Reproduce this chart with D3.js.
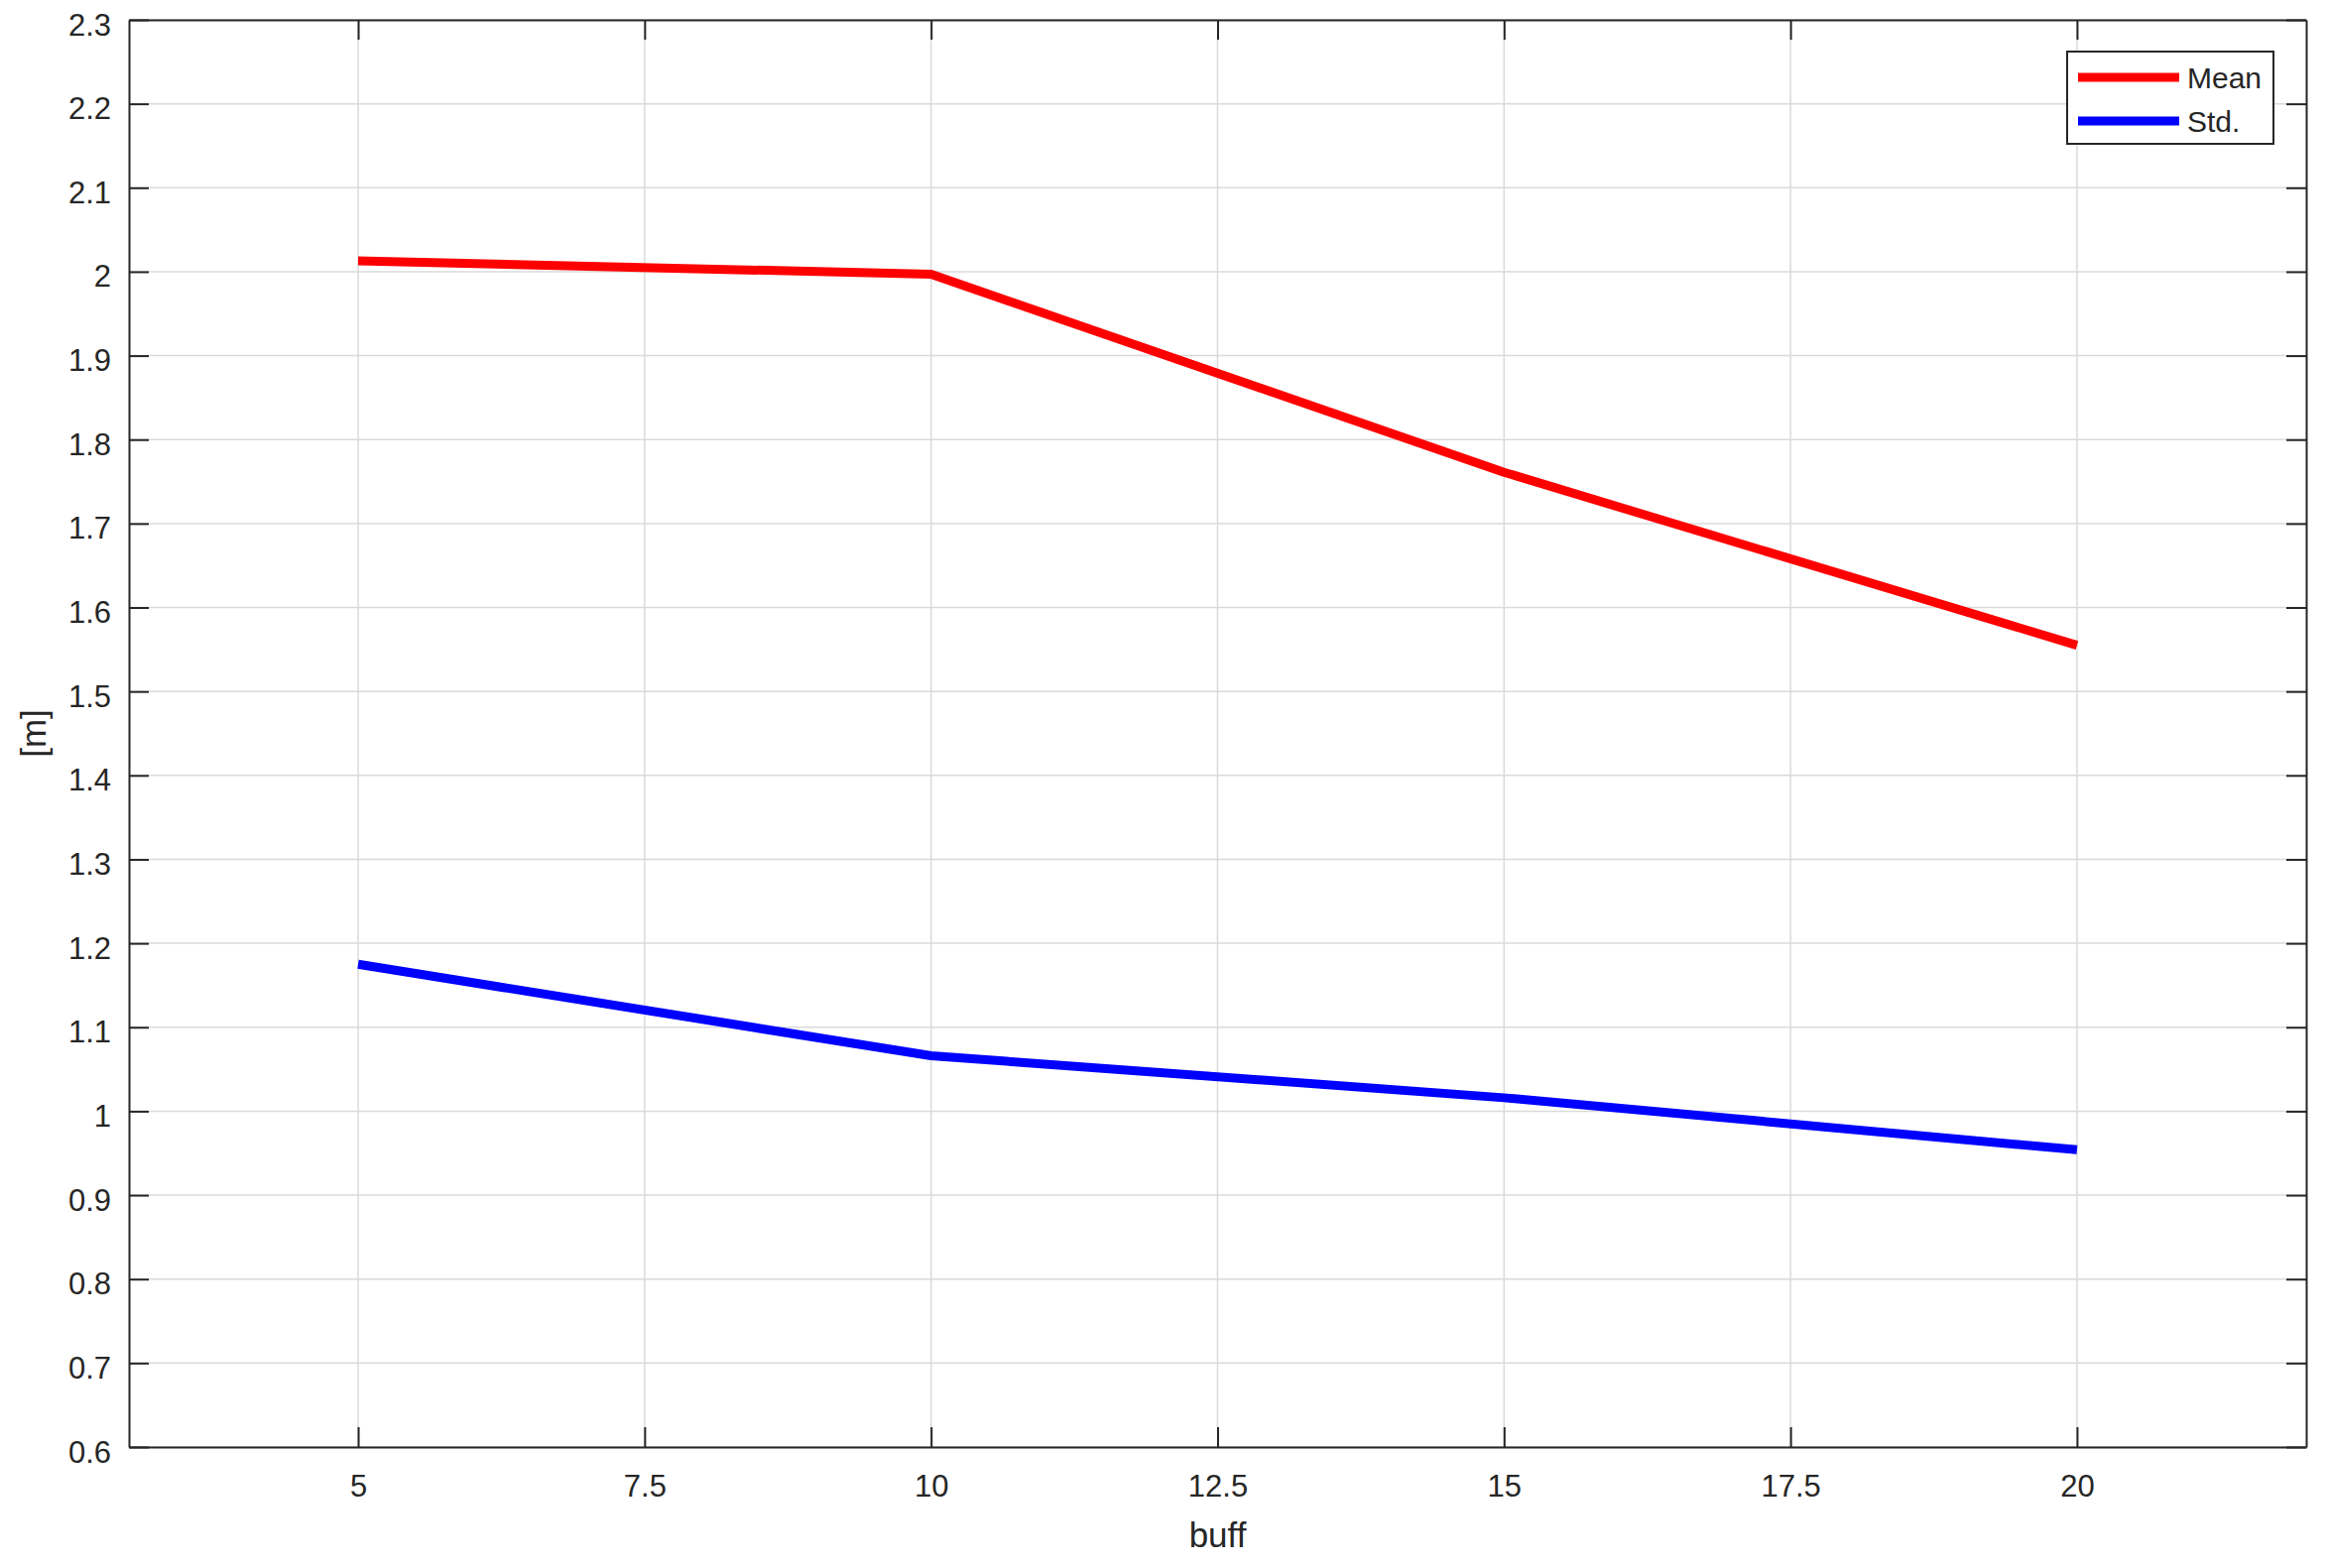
<!DOCTYPE html>
<html>
<head>
<meta charset="utf-8">
<script src="https://cdn.jsdelivr.net/npm/d3@7"></script>
<style>
  html, body { margin: 0; padding: 0; background: #ffffff; }
  svg { display: block; }
  text { font-family: "Liberation Sans", Arial, Helvetica, sans-serif; fill: #262626; }
</style>
</head>
<body>
<svg id="chart" width="2349" height="1581"></svg>
<script>
// ---- data ----
const buff = [5, 10, 15, 20];
const meanValues = [2.013, 1.997, 1.761, 1.555];
const stdValues = [1.175, 1.066, 1.016, 0.954];
const seriesNames = ["Mean", "Std."];
const seriesColors = ["#ff0000", "#0000ff"];
const xTicks = [5, 7.5, 10, 12.5, 15, 17.5, 20];
const yTicks = [0.6, 0.7, 0.8, 0.9, 1.0, 1.1, 1.2, 1.3, 1.4, 1.5, 1.6, 1.7, 1.8, 1.9, 2.0, 2.1, 2.2, 2.3];
const xDomain = [3, 22];
const yDomain = [0.6, 2.3];
const xLabel = "buff";
const yLabel = "[m]";

// ---- layout ----
const W = 2349, H = 1581;
const plot = { left: 130, right: 2325, top: 20, bottom: 1459 };
const svg = d3.select("#chart");
svg.append("rect").attr("width", W).attr("height", H).attr("fill", "#ffffff");

const x = d3.scaleLinear().domain(xDomain).range([plot.left, plot.right]);
const y = d3.scaleLinear().domain(yDomain).range([plot.bottom, plot.top]);
const fmt = d3.format("~g");

// grid
const grid = svg.append("g");
grid.selectAll("line.gx").data(xTicks).join("line")
  .attr("x1", d => x(d)).attr("x2", d => x(d))
  .attr("y1", plot.top).attr("y2", plot.bottom)
  .attr("stroke", "#dadada").attr("stroke-width", 1.5);
grid.selectAll("line.gy").data(yTicks).join("line")
  .attr("x1", plot.left).attr("x2", plot.right)
  .attr("y1", d => y(d)).attr("y2", d => y(d))
  .attr("stroke", "#dadada").attr("stroke-width", 1.5);

// lines
const series = [meanValues, stdValues];
const lineGen = d3.line().x((d, i) => x(buff[i])).y(d => y(d));
series.forEach((vals, k) => {
  svg.append("path").datum(vals)
    .attr("d", lineGen)
    .attr("fill", "none")
    .attr("stroke", seriesColors[k])
    .attr("stroke-width", 9)
    .attr("stroke-linejoin", "round")
    .attr("stroke-linecap", "butt");
});

// axes (box with inward ticks)
const tickLen = 20;
function styleAxis(g) {
  g.select(".domain").attr("stroke", "#262626").attr("stroke-width", 2);
  g.selectAll(".tick line").attr("stroke", "#262626").attr("stroke-width", 2);
  g.selectAll("text").attr("font-size", 31).attr("fill", "#262626")
    .attr("font-family", "Liberation Sans, Arial, sans-serif");
}
const axB = svg.append("g").attr("transform", `translate(0,${plot.bottom})`)
  .call(d3.axisBottom(x).tickValues(xTicks).tickFormat(fmt).tickSizeInner(-tickLen).tickSizeOuter(0).tickPadding(0));
styleAxis(axB);
axB.selectAll(".tick text").attr("y", 50).attr("dy", null);

const axT = svg.append("g").attr("transform", `translate(0,${plot.top})`)
  .call(d3.axisTop(x).tickValues(xTicks).tickFormat("").tickSizeInner(-tickLen).tickSizeOuter(0));
styleAxis(axT);

const axL = svg.append("g").attr("transform", `translate(${plot.left},0)`)
  .call(d3.axisLeft(y).tickValues(yTicks).tickFormat(fmt).tickSizeInner(-tickLen).tickSizeOuter(0).tickPadding(0));
styleAxis(axL);
axL.selectAll(".tick text").attr("x", -18).attr("dy", null).attr("y", 15);

const axR = svg.append("g").attr("transform", `translate(${plot.right},0)`)
  .call(d3.axisRight(y).tickValues(yTicks).tickFormat("").tickSizeInner(-tickLen).tickSizeOuter(0));
styleAxis(axR);

// axis labels
svg.append("text").attr("x", (plot.left + plot.right) / 2).attr("y", 1560)
  .attr("text-anchor", "middle").attr("font-size", 35).text(xLabel);
svg.append("text")
  .attr("transform", `translate(46,${(plot.top + plot.bottom) / 2}) rotate(-90)`)
  .attr("text-anchor", "middle").attr("font-size", 35).text(yLabel);

// legend
const lg = svg.append("g");
lg.append("rect").attr("x", 2084).attr("y", 52).attr("width", 208).attr("height", 93)
  .attr("fill", "#ffffff").attr("stroke", "#262626").attr("stroke-width", 2);
const legendRows = [78, 122];
seriesNames.forEach((name, k) => {
  lg.append("line").attr("x1", 2095).attr("x2", 2197)
    .attr("y1", legendRows[k]).attr("y2", legendRows[k])
    .attr("stroke", seriesColors[k]).attr("stroke-width", 9);
  lg.append("text").attr("x", 2205).attr("y", legendRows[k] + 11)
    .attr("font-size", 30).text(name);
});
</script>
</body>
</html>
